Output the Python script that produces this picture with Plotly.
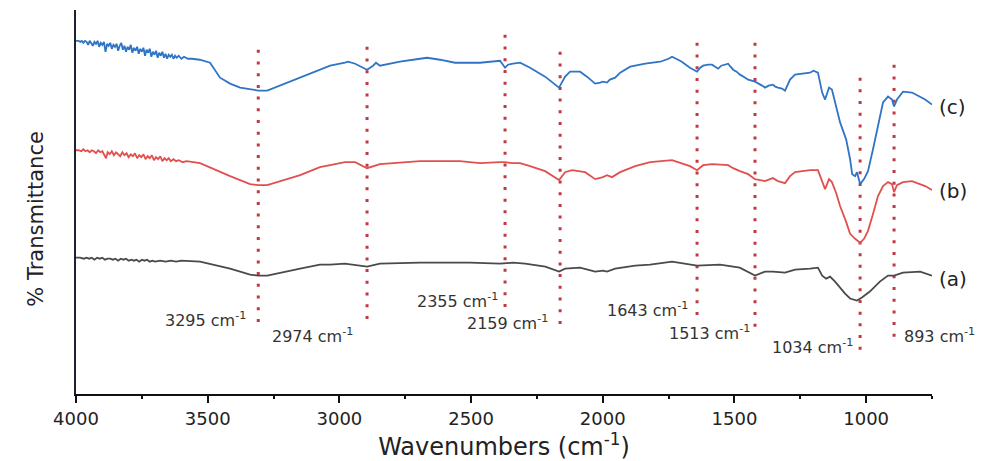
import plotly.graph_objects as go

# ---------------- data ----------------
# (c) blue spectrum
wn_c = [4000, 3990, 3984, 3978, 3972, 3966, 3960, 3954, 3948, 3942, 3936, 3930, 3924, 3918, 3912,
        3906, 3900, 3894, 3888, 3882, 3876, 3870, 3864, 3858, 3852, 3846, 3840, 3834, 3828, 3822,
        3816, 3810, 3804, 3798, 3792, 3786, 3780, 3774, 3768, 3762, 3756, 3750, 3744, 3738, 3732,
        3726, 3720, 3714, 3708, 3702, 3696, 3690, 3684, 3678, 3672, 3666, 3660, 3654, 3648, 3642,
        3636, 3630, 3624, 3618, 3610, 3600, 3590, 3575, 3560, 3530, 3491, 3453, 3415, 3377, 3339,
        3308, 3274, 3187, 3111, 3074, 3035, 2979, 2967, 2940, 2895, 2872, 2861, 2846, 2770, 2694,
        2667, 2618, 2561, 2466, 2390, 2371, 2360, 2341, 2314, 2276, 2219, 2166, 2143, 2124, 2086,
        2060, 2029, 2010, 1999, 1984, 1973, 1953, 1934, 1896, 1839, 1782, 1760, 1750, 1737, 1725,
        1714, 1700, 1685, 1669, 1642, 1630, 1619, 1600, 1585, 1575, 1562, 1550, 1540, 1524, 1515,
        1505, 1492, 1479, 1465, 1448, 1422, 1405, 1395, 1384, 1370, 1354, 1345, 1335, 1320, 1308,
        1289, 1270, 1240, 1213, 1200, 1194, 1183, 1167, 1156, 1141, 1130, 1114, 1099, 1076, 1061,
        1053, 1042, 1035, 1023, 1008, 993, 974, 955, 936, 917, 902, 894, 883, 860, 826, 776, 750]
t_c = [355, 355, 354, 355, 353, 355, 354, 351, 355, 353, 350, 354, 352, 355, 349,
       353, 351, 354, 344, 352, 350, 353, 347, 351, 349, 352, 345, 350, 353, 346,
       350, 344, 349, 346, 351, 343, 348, 345, 349, 342, 347, 344, 348, 340, 346,
       343, 347, 339, 344, 341, 345, 338, 343, 340, 344, 338, 342, 337, 341, 339,
       341, 337, 340, 338, 340, 337, 339, 337, 337, 336, 333, 318, 312, 308, 306,
       305, 305, 314, 322, 326, 330, 333, 334, 332, 326, 330, 333, 330, 334, 337,
       338, 336, 333, 333, 335, 328, 331, 332, 333, 328, 319, 308, 319, 324, 324,
       319, 312, 313, 314, 313, 316, 318, 323, 329, 332, 334, 336, 337, 339, 337,
       336, 334, 331, 328, 324, 328, 330, 331, 331, 329, 327, 330, 331, 332, 329,
       326, 324, 321, 319, 316, 314, 312, 310, 308, 310, 311, 309, 308, 307, 305,
       316, 321, 322, 323, 325, 324, 323, 303, 296, 308, 306, 289, 273, 256, 236,
       221, 219, 223, 211, 216, 224, 246, 271, 293, 299, 296, 289, 296, 304, 303, 296, 291]

# (b) red spectrum
wn_b = [4000, 3990, 3980, 3972, 3964, 3956, 3948, 3940, 3932, 3924, 3916, 3908, 3900, 3892, 3886,
        3880, 3872, 3864, 3856, 3848, 3840, 3832, 3824, 3816, 3808, 3800, 3792, 3784, 3776, 3768,
        3760, 3752, 3744, 3736, 3728, 3720, 3712, 3704, 3696, 3688, 3680, 3672, 3664, 3656, 3648,
        3640, 3630, 3620, 3610, 3595, 3580, 3560, 3529, 3415, 3339, 3308, 3274, 3149, 3074, 3035,
        2979, 2940, 2895, 2846, 2694, 2543, 2466, 2390, 2371, 2341, 2314, 2276, 2219, 2166, 2143,
        2117, 2067, 2029, 1999, 1984, 1965, 1934, 1877, 1820, 1737, 1669, 1642, 1619, 1585, 1524,
        1505, 1479, 1448, 1422, 1384, 1354, 1335, 1308, 1289, 1270, 1213, 1183, 1167, 1156, 1141,
        1130, 1114, 1099, 1076, 1061, 1042, 1023, 1008, 993, 974, 955, 936, 917, 902, 894, 883,
        860, 826, 776, 750]
t_b = [245, 245, 244, 246, 244, 245, 243, 245, 244, 242, 245, 243, 244, 240, 237,
       243, 241, 244, 240, 243, 241, 239, 243, 240, 242, 238, 241, 239, 242, 237,
       240, 238, 241, 236, 239, 237, 240, 235, 238, 236, 239, 234, 237, 235, 237,
       234, 236, 234, 235, 233, 234, 233, 232, 219, 211, 210, 210, 220, 228, 230,
       233, 233, 227, 231, 234, 234, 232, 233, 233, 232, 232, 229, 224, 215, 223,
       225, 223, 216, 218, 220, 218, 223, 229, 233, 235, 229, 225, 230, 231, 230,
       227, 224, 221, 216, 214, 217, 214, 212, 219, 223, 225, 225, 214, 206, 216,
       213, 202, 189, 173, 161, 156, 152, 156, 164, 181, 199, 209, 213, 211, 203, 210,
       213, 214, 209, 205]

# (a) dark grey spectrum
wn_a = [4000, 3985, 3970, 3960, 3950, 3940, 3930, 3920, 3910, 3900, 3890, 3880, 3870, 3860, 3850,
        3840, 3830, 3820, 3810, 3800, 3790, 3780, 3770, 3760, 3750, 3740, 3730, 3720, 3710, 3700,
        3680, 3660, 3640, 3620, 3600, 3529, 3415, 3339, 3308, 3274, 3149, 3074, 3035, 2979, 2895,
        2846, 2694, 2504, 2390, 2341, 2295, 2218, 2166, 2143, 2086, 2029, 1999, 1984, 1953, 1877,
        1820, 1737, 1642, 1555, 1480, 1422, 1384, 1354, 1308, 1270, 1213, 1183, 1167, 1152, 1137,
        1118, 1080, 1061, 1035, 1016, 986, 948, 917, 894, 860, 795, 750]
t_a = [137, 137, 136, 137, 136, 137, 135, 137, 136, 137, 135, 136, 136, 135, 136,
       134, 136, 135, 136, 134, 135, 134, 135, 133, 135, 134, 135, 133, 134, 133,
       134, 133, 134, 133, 134, 133, 126, 120, 119, 119, 126, 130, 130, 131, 128,
       131, 132, 132, 131, 132, 131, 128, 123, 126, 127, 123, 124, 123, 126, 129,
       130, 133, 129, 130, 127, 119, 123, 123, 122, 125, 126, 127, 119, 116, 118,
       113, 101, 96, 94, 97, 103, 113, 119, 119, 122, 123, 119]

series_names = ["(c)", "(b)", "(a)"]

# marked bands: where the dotted lines sit, and their printed labels
peak_wn = [3308, 2895, 2371, 2162, 1642, 1422, 1023, 894]
peak_labels = ["3295", "2974", "2355", "2159", "1643", "1513", "1034", "893"]

x_ticks = [4000, 3500, 3000, 2500, 2000, 1500, 1000]

# ---------------- layout helpers (positions / styles) ----------------
line_top = [346, 349, 361, 344, 353, 353, 318, 331]
line_bot = [66, 70, 81, 66, 73, 61, 38, 51]
label_x = [3347, 3263, 2390, 2200, 1669, 1433, 1042, 864]
label_y = [75, 59, 94, 72, 85, 62, 48, 59]
label_anchor = ["right", "left", "right", "right", "right", "right", "right", "left"]
series_label_y = [289, 204, 116]

colors = ["#2f74c6", "#e0504f", "#4a4a4a"]
FONT = "DejaVu Sans, Arial, sans-serif"

fig = go.Figure()

# dotted marker lines
lx, ly = [], []
for w, t0, t1 in zip(peak_wn, line_top, line_bot):
    lx += [w, w, None]
    ly += [t0, t1, None]
fig.add_trace(go.Scatter(x=lx, y=ly, mode="lines",
                         line=dict(color="#c0393f", width=3, dash="3px,8.7px"),
                         hoverinfo="skip", showlegend=False))

for wn, t, c in zip([wn_c, wn_b, wn_a], [t_c, t_b, t_a], colors):
    fig.add_trace(go.Scatter(x=wn, y=t, mode="lines",
                             line=dict(color=c, width=1.8),
                             showlegend=False, cliponaxis=False))

for lab, x, y, anc in zip(peak_labels, label_x, label_y, label_anchor):
    fig.add_annotation(x=x, y=y, xref="x", yref="y", text=f"{lab} cm<sup>-1</sup>",
                       showarrow=False, xanchor=anc, yanchor="middle",
                       font=dict(family=FONT, size=16, color="#333333"))

for name, y in zip(series_names, series_label_y):
    fig.add_annotation(x=1.006, y=y, xref="paper", yref="y", text=name,
                       showarrow=False, xanchor="left", yanchor="middle",
                       font=dict(family=FONT, size=20, color="#222222"))

fig.add_annotation(x=-0.047, y=0.456, xref="paper", yref="paper", text="% Transmittance",
                   textangle=-90, showarrow=False, xanchor="center", yanchor="middle",
                   font=dict(family=FONT, size=21, color="#222222"))

fig.update_layout(
    width=983, height=461,
    margin=dict(l=76, r=51, t=10, b=65),
    plot_bgcolor="white", paper_bgcolor="white",
    font=dict(family=FONT, color="#222222"),
)
fig.update_xaxes(range=[4000, 750], tickvals=x_ticks, ticks="outside", ticklen=7, tickwidth=2,
                 tickcolor="#111111", showline=True, linecolor="#111111", linewidth=2,
                 showgrid=False, zeroline=False,
                 minor=dict(dtick=250, tick0=0, ticks="outside", ticklen=3, tickwidth=2,
                            tickcolor="#111111", showgrid=False),
                 tickfont=dict(family=FONT, size=18, color="#222222"),
                 title=dict(text="Wavenumbers (cm<sup>-1</sup>)", standoff=6,
                            font=dict(family=FONT, size=24, color="#222222")))
fig.update_yaxes(range=[0, 386], showline=True, linecolor="#1c2233", linewidth=2,
                 showticklabels=False, ticks="", showgrid=False, zeroline=False)

fig.write_html("out.html")
